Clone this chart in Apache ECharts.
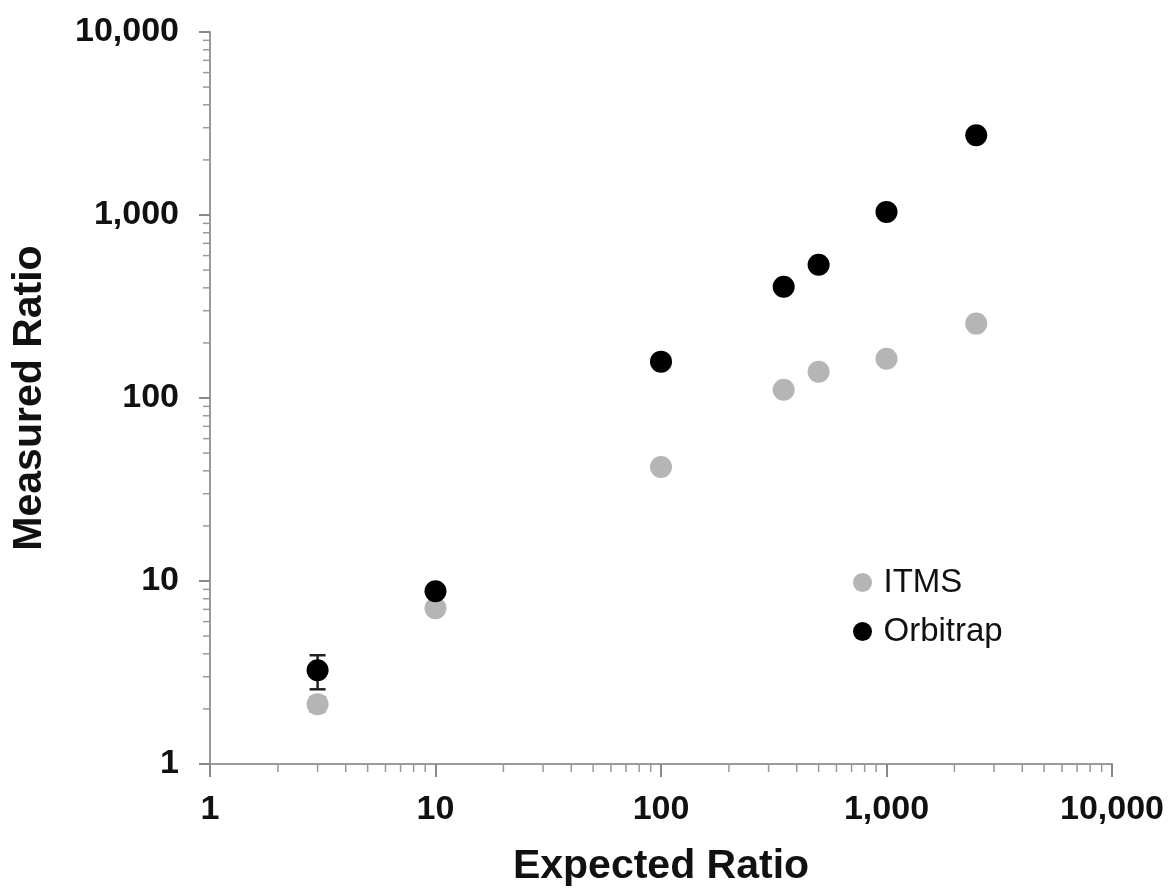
<!DOCTYPE html>
<html>
<head>
<meta charset="utf-8">
<style>
  html, body { margin: 0; padding: 0; background: #fff; }
  #chart { width: 1169px; height: 892px; }
</style>
<script src="https://cdn.jsdelivr.net/npm/echarts@6/dist/echarts.min.js"></script>
</head>
<body>
<div id="chart"></div>
<script>
  // expected ratios (x)
  var expected = [3, 10, 100, 350, 500, 1000, 2500];
  // measured ratios (y)
  var itms = [2.12, 7.1, 42, 111, 139, 164, 255];
  var orbitrap = [3.25, 8.8, 158, 405, 535, 1040, 2730];
  // error bars at expected = 3 : [x, low, high]
  var itmsErr = [[3, 1.94, 2.32]];
  var orbiErr = [[3, 2.56, 3.93]];

  // minor tick values on each log axis
  var minorVals = [];
  [1, 10, 100, 1000].forEach(function (d) {
    for (var k = 2; k <= 9; k++) minorVals.push(d * k);
  });

  var fontFam = '"Liberation Sans", Arial, sans-serif';
  var axisGrey = '#9a9a9a';

  function pairs(xs, ys) {
    return xs.map(function (x, i) { return [x, ys[i]]; });
  }

  function errRender(color) {
    return function (params, api) {
      var lo = api.coord([api.value(0), api.value(1)]);
      var hi = api.coord([api.value(0), api.value(2)]);
      var w = 8;
      var st = { stroke: color, lineWidth: 2.5 };
      return {
        type: 'group',
        children: [
          { type: 'line', shape: { x1: lo[0], y1: lo[1], x2: hi[0], y2: hi[1] }, style: st },
          { type: 'line', shape: { x1: lo[0] - w, y1: lo[1], x2: lo[0] + w, y2: lo[1] }, style: st },
          { type: 'line', shape: { x1: hi[0] - w, y1: hi[1], x2: hi[0] + w, y2: hi[1] }, style: st }
        ]
      };
    };
  }

  var labelFmt = function (v) { return Number(v).toLocaleString('en-US'); };

  var chart = echarts.init(document.getElementById('chart'));
  var option = {
    backgroundColor: '#fff',
    animation: false,
    grid: { left: 210, right: 57, top: 32, bottom: 126 },
    legend: {
      data: ['ITMS', 'Orbitrap'],
      orient: 'vertical',
      left: 848,
      top: 561,
      icon: 'circle',
      itemWidth: 32,
      itemHeight: 19,
      itemGap: 16,
      textStyle: { fontFamily: fontFam, fontSize: 33, color: '#111' }
    },
    xAxis: {
      type: 'log',
      logBase: 10,
      min: 1,
      max: 10000,
      name: 'Expected Ratio',
      nameLocation: 'middle',
      nameGap: 82,
      nameTextStyle: { fontFamily: fontFam, fontSize: 41, fontWeight: 'bold', color: '#111' },
      axisLine: { lineStyle: { color: axisGrey, width: 2 } },
      axisTick: { show: true, length: 13, lineStyle: { color: '#888', width: 2 } },
      splitLine: { show: false },
      axisLabel: {
        fontFamily: fontFam, fontSize: 34, fontWeight: 'bold', color: '#111', margin: 29,
        formatter: labelFmt
      }
    },
    yAxis: {
      type: 'log',
      logBase: 10,
      min: 1,
      max: 10000,
      name: 'Measured Ratio',
      nameLocation: 'middle',
      nameGap: 160,
      nameRotate: 90,
      nameTextStyle: { fontFamily: fontFam, fontSize: 41, fontWeight: 'bold', color: '#111' },
      axisLine: { lineStyle: { color: axisGrey, width: 2 } },
      axisTick: { show: true, length: 11, lineStyle: { color: '#888', width: 2 } },
      splitLine: { show: false },
      axisLabel: {
        fontFamily: fontFam, fontSize: 34, fontWeight: 'bold', color: '#111', margin: 31,
        formatter: labelFmt
      }
    },
    series: [
      {
        name: 'xMinor',
        type: 'custom',
        clip: false,
        silent: true,
        data: minorVals.map(function (v) { return [v, 1]; }),
        renderItem: function (params, api) {
          var p = api.coord([api.value(0), 1]);
          return { type: 'line', shape: { x1: p[0], y1: p[1], x2: p[0], y2: p[1] + 8 },
                   style: { stroke: '#999', lineWidth: 1.5 } };
        }
      },
      {
        name: 'yMinor',
        type: 'custom',
        clip: false,
        silent: true,
        data: minorVals.map(function (v) { return [1, v]; }),
        renderItem: function (params, api) {
          var p = api.coord([1, api.value(1)]);
          return { type: 'line', shape: { x1: p[0], y1: p[1], x2: p[0] - 7, y2: p[1] },
                   style: { stroke: '#999', lineWidth: 1.5 } };
        }
      },
      {
        name: 'itmsErr',
        type: 'custom',
        z: 1,
        data: itmsErr,
        encode: { x: 0, y: [1, 2] },
        renderItem: errRender('#444')
      },
      {
        name: 'orbiErr',
        type: 'custom',
        z: 1,
        data: orbiErr,
        encode: { x: 0, y: [1, 2] },
        renderItem: errRender('#222')
      },
      {
        name: 'ITMS',
        type: 'scatter',
        z: 3,
        symbolSize: 22,
        itemStyle: { color: '#b5b5b5', opacity: 1 },
        data: pairs(expected, itms)
      },
      {
        name: 'Orbitrap',
        type: 'scatter',
        z: 3,
        symbolSize: 22,
        itemStyle: { color: '#000', opacity: 1 },
        data: pairs(expected, orbitrap)
      }
    ]
  };
  chart.setOption(option);
</script>
</body>
</html>
